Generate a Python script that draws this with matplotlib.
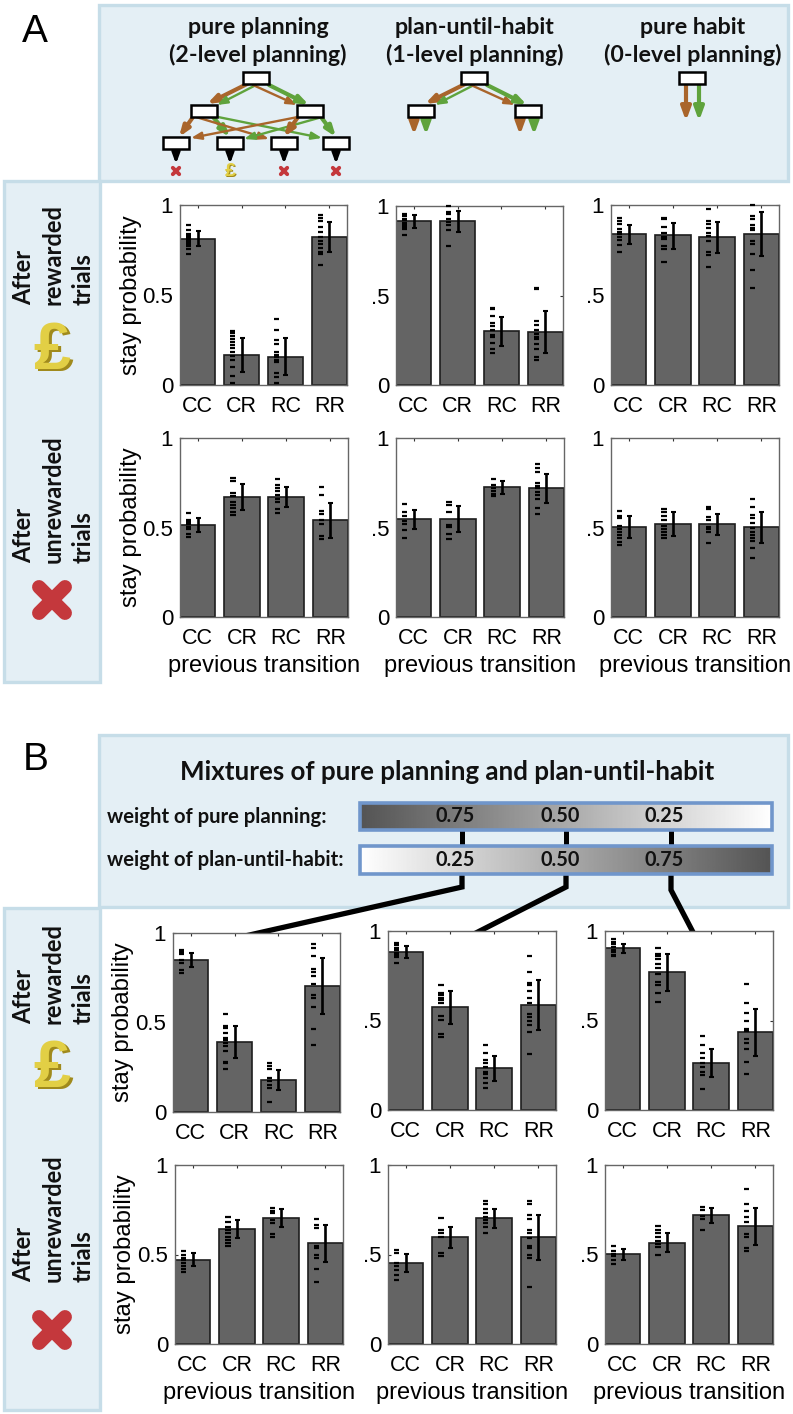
import numpy as np
import matplotlib
matplotlib.use('Agg')
import matplotlib.pyplot as plt
from matplotlib.patches import Rectangle, FancyArrowPatch

plt.rcParams['font.family'] = ['Liberation Sans', 'DejaVu Sans']

W, H = 793, 1414
cats = ['CC', 'CR', 'RC', 'RR']

# 每行 3 列，每列 4 个柱
bars_A_rew = [[.81, .167, .157, .824], [.915, .915, .30, .297], [.838, .831, .82, .838]]
low_A_rew = [[.77, .075, .055, .74], [.877, .855, .217, .177], [.786, .758, .736, .716]]
high_A_rew = [[.855, .26, .263, .905], [.948, .97, .381, .414], [.89, .90, .903, .963]]
dash_A_rew = [
    [[.89, .86, .84, .835, .825, .815, .805, .795, .785, .77, .755, .73],
     [.30, .287, .272, .257, .24, .222, .204, .185, .163, .139, .10, .05, .01],
     [.368, .305, .25, .228, .185, .167, .154, .139, .13, .065, .043, .01],
     [.944, .926, .913, .876, .852, .824, .80, .783, .76, .74, .726, .667]],
    [[.957, .942, .93, .92, .907, .896, .883, .874, .838],
     [1.0, .967, .954, .93, .912, .896, .864, .777],
     [.431, .424, .385, .348, .329, .307, .279, .266, .236, .199, .18],
     [.543, .539, .357, .335, .307, .284, .27, .255, .229, .199, .158, .139]],
    [[.929, .911, .892, .864, .851, .838, .823, .805, .777, .74],
     [.929, .92, .879, .846, .823, .81, .771, .758, .684],
     [.976, .911, .892, .874, .842, .829, .801, .74, .725, .656],
     [1.0, .939, .92, .888, .874, .861, .801, .786, .73, .638, .539]],
]

bars_A_unr = [[.516, .672, .672, .542], [.545, .549, .724, .722], [.503, .519, .518, .501]]
low_A_unr = [[.475, .597, .612, .443], [.49, .477, .685, .638], [.443, .453, .458, .412]]
high_A_unr = [[.551, .742, .729, .638], [.597, .62, .759, .80], [.564, .584, .575, .588]]
dash_A_unr = [
    [[.583, .542, .529, .518, .505, .492, .462, .449],
     [.779, .759, .69, .675, .644, .625, .607, .588, .57],
     [.772, .74, .722, .703, .681, .662, .644, .603, .583],
     [.724, .679, .592, .573, .542, .519, .455, .436]],
    [[.631, .584, .566, .536, .518, .486, .443],
     [.64, .625, .588, .514, .505, .462, .436],
     [.772, .737, .722, .703, .685, .675],
     [.857, .835, .81, .746, .733, .718, .70, .681, .659, .607, .575]],
    [[.592, .566, .551, .508, .492, .477, .458, .44, .421, .403],
     [.601, .588, .566, .542, .508, .492, .473, .458, .44],
     [.616, .603, .56, .542, .505, .492, .473, .416],
     [.66, .616, .57, .551, .523, .495, .477, .458, .44, .425, .388, .328]],
]

bars_B_rew = [[.851, .39, .178, .704], [.885, .576, .232, .587], [.903, .77, .262, .435]]
low_B_rew = [[.81, .301, .121, .545], [.849, .48, .162, .446], [.875, .667, .182, .301]]
high_B_rew = [[.888, .48, .232, .862], [.914, .665, .301, .727], [.929, .87, .34, .567]]
dash_B_rew = [
    [[.907, .894, .881, .848, .833, .796, .777],
     [.545, .48, .467, .439, .416, .405, .387, .368, .342, .281, .271, .24],
     [.275, .258, .243, .188, .175, .151, .132, .054],
     [.94, .918, .87, .801, .783, .758, .717, .652, .638, .584, .463, .377]],
    [[.933, .92, .907, .892, .879, .864, .855, .822],
     [.697, .654, .641, .628, .613, .595, .524, .502, .424, .409],
     [.361, .32, .279, .264, .242, .214, .201, .177, .152, .125],
     [.859, .77, .712, .697, .665, .623, .599, .535, .52, .498, .474, .437, .312]],
    [[.954, .939, .926, .911, .896, .883, .868, .859],
     [.903, .874, .859, .842, .818, .794, .762, .716, .697, .651, .604],
     [.416, .361, .32, .29, .262, .242, .214, .195, .117],
     [.706, .599, .543, .498, .455, .442, .394, .375, .338, .266, .199]],
]

bars_B_unr = [[.472, .643, .706, .563], [.454, .597, .704, .599], [.502, .567, .719, .66]]
low_B_unr = [[.433, .591, .652, .459], [.405, .535, .647, .472], [.468, .513, .678, .552]]
high_B_unr = [[.506, .693, .755, .665], [.502, .652, .755, .721], [.533, .619, .758, .762]]
dash_B_unr = [
    [[.522, .498, .48, .467, .452, .437, .418, .40],
     [.708, .684, .652, .638, .619, .60, .582, .563, .545],
     [.758, .743, .73, .69, .675, .615, .597],
     [.701, .665, .647, .545, .535, .498, .48, .418, .348]],
    [[.526, .507, .455, .437, .411, .387, .355],
     [.706, .639, .619, .597, .511, .489],
     [.801, .782, .753, .73, .712, .693, .675, .652, .619],
     [.801, .782, .721, .699, .639, .619, .591, .545, .535, .498, .48, .32]],
    [[.55, .517, .504, .489, .47, .448],
     [.658, .639, .619, .597, .578, .56, .541, .498],
     [.768, .749, .716, .699, .638],
     [.864, .781, .743, .712, .684, .615, .597, .535, .517]],
]

weights_plan = ['0.75', '0.50', '0.25']
weights_habit = ['0.25', '0.50', '0.75']

BG = '#e4eff5'; EDGE = '#c6dde8'
BROWN = '#a9652b'; GREEN = '#5fa33c'
TXT = ['Lato', 'Open Sans', 'DejaVu Sans']

fig = plt.figure(figsize=(W / 100, H / 100), dpi=100)
# 装饰层用像素坐标
bg = fig.add_axes([0, 0, 1, 1])
bg.set_axis_off()


def panel(x0, y0, x1, y1):
    bg.add_patch(Rectangle((x0, y0), x1 - x0, y1 - y0, fc=BG, ec=EDGE, lw=2.4, zorder=1))


def btext(x, y, s, size, **kw):
    kw.setdefault('ha', 'center'); kw.setdefault('va', 'center')
    bg.text(x, y, s, fontsize=size, fontweight='bold', family=TXT, color='#111111', zorder=6, **kw)


def arrow(p, q, c, lw=1.5, ms=10):
    bg.add_patch(FancyArrowPatch(p, q, arrowstyle='-|>,head_length=0.6,head_width=0.22',
                                 mutation_scale=ms, lw=lw, color=c,
                                 shrinkA=0, shrinkB=0, zorder=3))


def node(x, y):
    bg.add_patch(Rectangle((x - 13, y - 6), 26, 12, fc='white', ec='black', lw=1.8, zorder=4))


def cross(x, y, r, lw):
    for s in (1, -1):
        bg.plot([x - r, x + r], [y - s * r, y + s * r], color='#c4383c', lw=lw,
                solid_capstyle='round', zorder=5)


def pound(x, y, size):
    bg.text(x + size * 0.05, y + size * 0.05, '£', fontsize=size, fontweight='bold', color='#a08a1c',
            ha='center', va='center', zorder=5)
    bg.text(x, y, '£', fontsize=size, fontweight='bold', color='#e2cf45',
            ha='center', va='center', zorder=5)


panel(99, 5, 788, 181)
panel(4, 181, 100, 682)
panel(99, 735, 788, 907)
panel(4, 908, 100, 1410)

bg.text(35, 32, 'A', fontsize=28, ha='center', va='center')
bg.text(36, 760, 'B', fontsize=28, ha='center', va='center')

for cx, a, b in [(258, 'pure planning', '(2-level planning)'),
                 (475, 'plan-until-habit', '(1-level planning)'),
                 (693, 'pure habit', '(0-level planning)')]:
    btext(cx, 27, a, 16.7)
    btext(cx, 55, b, 16.7)

# 树 1
thick, thin = 3.0, 1.7
for dx in (0, 218):
    arrow((249 + dx, 83), (207 + dx, 104), BROWN, thick)
    arrow((256 + dx, 85), (217 + dx, 105), GREEN, thin)
    arrow((253 + dx, 85), (297 + dx, 105), BROWN, thin)
    arrow((269 + dx, 85), (309 + dx, 105), GREEN, thick)
arrow((193, 117), (179, 137), BROWN, thick)
arrow((213, 117), (230, 137), GREEN, thick)
arrow((196, 117), (269, 139), BROWN, thin)
arrow((218, 117), (322, 138), GREEN, thin)
arrow((298, 117), (191, 138), BROWN, thin)
arrow((322, 117), (244, 139), GREEN, thin)
arrow((298, 117), (284, 137), BROWN, thick)
arrow((321, 117), (336, 137), GREEN, thick)
for x, y in [(256, 78), (204, 111), (310, 111), (176, 143), (230, 143), (284, 143), (336, 143)]:
    node(x, y)
for x in (176, 230, 284, 336):
    arrow((x, 149), (x, 164), 'black', 2.4)
for x in (176, 284, 336):
    cross(x, 171, 3.2, 2.8)
pound(230, 172, 14)

# 树 2
for x, y in [(474, 78), (421, 111), (528, 111)]:
    node(x, y)
for x, c in [(414, BROWN), (426, GREEN), (520, BROWN), (534, GREEN)]:
    arrow((x, 117), (x, 135), c, thick, 12)
# 树 3
node(692, 78)
arrow((686, 84), (686, 121), BROWN, thick, 13)
arrow((699, 84), (699, 121), GREEN, thick, 13)

for y_base, word, yicon, kind in [(305, 'rewarded', 352, 'p'), (563, 'unrewarded', 600, 'x'),
                                  (1024, 'rewarded', 1070, 'p'), (1282, 'unrewarded', 1330, 'x')]:
    btext(24, y_base, 'After', 17, rotation=90, va='bottom')
    btext(53, y_base, word, 17, rotation=90, va='bottom')
    btext(83, y_base, 'trials', 17, rotation=90, va='bottom')
    if kind == 'p':
        pound(52, yicon, 48)
    else:
        cross(52, yicon, 13, 10)

# B 混合权重
btext(447, 772, 'Mixtures of pure planning and plan-until-habit', 18.6)
btext(107, 817, 'weight of pure planning:', 14.6, ha='left')
btext(107, 860, 'weight of plan-until-habit:', 14.6, ha='left')

for x in (462, 566, 671):
    bg.plot([x, x], [825, 850], color='black', lw=3.6, zorder=2, solid_capstyle='butt')
conn = [((462, 870), (462, 887), (245, 936)),
        ((566, 870), (566, 887), (470, 936)),
        ((671, 870), (671, 890), (695, 936))]
for p0, p1, p2 in conn:
    bg.plot([p0[0], p1[0], p2[0]], [p0[1], p1[1], p2[1]], color='black', lw=3.8, zorder=2,
            solid_joinstyle='miter')

grad = np.linspace(0.33, 1.0, 256).reshape(1, -1)
for (y0, y1, g, labels, ty) in [(803, 830, grad, weights_plan, 816), (846, 874, grad[:, ::-1], weights_habit, 860)]:
    bg.imshow(g, extent=(360, 772, y1, y0), cmap='gray', vmin=0, vmax=1, aspect='auto', zorder=3)
    bg.add_patch(Rectangle((360, y0), 412, y1 - y0, fc='none', ec='#7096cb', lw=2.6, zorder=4))
    for x, s in zip((455, 560, 664), labels):
        btext(x, ty, s, 14.3)

bg.set_xlim(0, W); bg.set_ylim(H, 0)


def bar_panel(box, bars, lo, hi, dashes, first=False, xlabel=False, ylab_x=None):
    x0, y0, x1, y1 = box
    ax = fig.add_axes([x0 / W, 1 - y1 / H, (x1 - x0) / W, (y1 - y0) / H])
    xs = np.arange(1, 5)
    ax.bar(xs, bars, width=0.8, color='#646464', edgecolor='#1e1e1e', lw=1.2, zorder=2)
    for x, d in zip(xs, dashes):
        ax.hlines(d, x - 0.26, x - 0.14, color='black', lw=1.6, zorder=3, clip_on=False)
    b = np.array(bars)
    ax.errorbar(xs, b, yerr=[b - np.array(lo), np.array(hi) - b], fmt='none', ecolor='black',
                elinewidth=1.9, capsize=1.8, capthick=1.5, zorder=4)
    ax.set_xlim(0.6, 4.4); ax.set_ylim(0, 1)
    ax.set_xticks(xs); ax.set_xticklabels(cats, fontsize=15.5)
    ax.set_yticks([0, 0.5, 1])
    ax.set_yticklabels(['0', '0.5' if first else '.5', '1'], fontsize=16)
    ax.tick_params(direction='in', length=2, width=0.8, top=True, right=True, color='#333333')
    ax.tick_params(axis='x', pad=8)
    ax.tick_params(axis='y', pad=5)
    for s in ax.spines.values():
        s.set_color('#666666'); s.set_linewidth(1.0)
    if first:
        ax.set_ylabel('stay probability', fontsize=17.2)
        ax.yaxis.set_label_coords((ylab_x - x0) / (x1 - x0), 0.5)
    if xlabel:
        ax.set_xlabel('previous transition', fontsize=17, labelpad=4)
    return ax


rows = [
    ([(180, 205, 347, 385), (396, 206, 563, 385), (611, 205, 779, 385)],
     bars_A_rew, low_A_rew, high_A_rew, dash_A_rew, False, 142),
    ([(180, 438, 348, 617), (396, 438, 564, 617), (611, 438, 779, 617)],
     bars_A_unr, low_A_unr, high_A_unr, dash_A_unr, True, 142),
    ([(173, 933, 340, 1112), (388, 931, 556, 1110), (605, 931, 773, 1110)],
     bars_B_rew, low_B_rew, high_B_rew, dash_B_rew, False, 134),
    ([(175, 1165, 343, 1344), (388, 1165, 556, 1344), (605, 1165, 773, 1344)],
     bars_B_unr, low_B_unr, high_B_unr, dash_B_unr, True, 136),
]
for boxes, bs, los, his, ds, xl, ylx in rows:
    for j in range(3):
        bar_panel(boxes[j], bs[j], los[j], his[j], ds[j], first=(j == 0), xlabel=xl, ylab_x=ylx)

fig.savefig('out.png', dpi=100)
